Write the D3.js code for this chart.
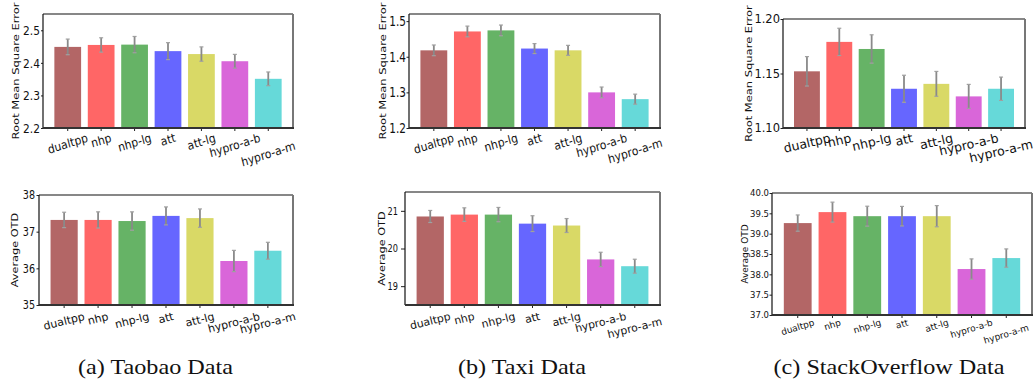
<!DOCTYPE html>
<html>
<head>
<meta charset="utf-8">
<script src="https://cdn.jsdelivr.net/npm/d3@7/dist/d3.min.js"></script>
<style>
  html, body { margin: 0; padding: 0; background: #fff; }
  svg { display: block; }
</style>
</head>
<body>
<svg id="chart" width="1034" height="381"></svg>
<script>
// ---------- data ----------
const categories = ["dualtpp", "nhp", "nhp-lg", "att", "att-lg", "hypro-a-b", "hypro-a-m"];
const barColors = ["#b36666", "#ff6666", "#66b366", "#6666ff", "#d9d966", "#d966d9", "#66d9d9"];

const taobaoRmse     = [2.449, 2.455, 2.456, 2.436, 2.427, 2.405, 2.351];
const taobaoRmseErr  = [0.024, 0.022, 0.025, 0.026, 0.022, 0.021, 0.021];
const taxiRmse       = [1.418, 1.471, 1.474, 1.423, 1.418, 1.300, 1.281];
const taxiRmseErr    = [0.015, 0.015, 0.015, 0.014, 0.014, 0.015, 0.014];
const soRmse         = [1.152, 1.179, 1.1725, 1.136, 1.1405, 1.129, 1.136];
const soRmseErr      = [0.0135, 0.0125, 0.013, 0.0124, 0.0114, 0.011, 0.0107];

const taobaoOtd      = [37.32, 37.32, 37.29, 37.43, 37.37, 36.20, 36.48];
const taobaoOtdErr   = [0.21, 0.22, 0.25, 0.245, 0.25, 0.29, 0.23];
const taxiOtd        = [20.85, 20.90, 20.90, 20.66, 20.61, 19.71, 19.53];
const taxiOtdErr     = [0.16, 0.18, 0.19, 0.21, 0.185, 0.19, 0.185];
const soOtd          = [39.26, 39.53, 39.43, 39.43, 39.43, 38.13, 38.40];
const soOtdErr       = [0.20, 0.245, 0.245, 0.24, 0.26, 0.25, 0.225];

const taobaoRmseTicks = [2.2, 2.3, 2.4, 2.5];
const taxiRmseTicks   = [1.2, 1.3, 1.4, 1.5];
const soRmseTicks     = [1.10, 1.15, 1.20];
const taobaoOtdTicks  = [35, 36, 37, 38];
const taxiOtdTicks    = [19, 20, 21];
const soOtdTicks      = [37.0, 37.5, 38.0, 38.5, 39.0, 39.5, 40.0];

const captions = ["(a) Taobao Data", "(b) Taxi Data", "(c) StackOverflow Data"];
const rmseLabel = "Root Mean Square Error";
const otdLabel = "Average OTD";

// ---------- layout ----------
const panels = [
  { vals: taobaoRmse, errs: taobaoRmseErr, ticks: taobaoRmseTicks, domain: [2.2, 2.55], fmt: ".1f",
    x0: 43, x1: 293, y0: 14, y1: 128, label: rmseLabel, labelX: 15, labelFs: 11.5, labelSx: 0.8,
    tickFs: 13, tickSx: 0.82, tickLen: 2, tickPad: 1,
    xFs: 12, xAng: 16, xSx: 0.9, xOff: 3.5, lastShift: 8 },
  { vals: taxiRmse, errs: taxiRmseErr, ticks: taxiRmseTicks, domain: [1.2, 1.52], fmt: ".1f",
    x0: 409, x1: 660, y0: 14, y1: 128, label: rmseLabel, labelX: 382, labelFs: 11.5, labelSx: 0.8,
    tickFs: 13.5, tickSx: 0.78, tickLen: 2.5, tickPad: 0.5,
    xFs: 12, xAng: 16, xSx: 0.9, xOff: 3.5, lastShift: 5 },
  { vals: soRmse, errs: soRmseErr, ticks: soRmseTicks, domain: [1.10, 1.20], fmt: ".2f",
    x0: 783, x1: 1025, y0: 19, y1: 128, label: rmseLabel, labelX: 748, labelFs: 11.5, labelSx: 0.82,
    tickFs: 11.5, tickSx: 1, tickLen: 2.5, tickPad: 0.5,
    xFs: 12.5, xAng: 13, xSx: 1, xOff: 3.5, lastShift: 6 },
  { vals: taobaoOtd, errs: taobaoOtdErr, ticks: taobaoOtdTicks, domain: [35, 38], fmt: "d",
    x0: 39, x1: 293, y0: 195, y1: 305, label: otdLabel, labelX: 15, labelFs: 11.3, labelSx: 0.8,
    tickFs: 12, tickSx: 0.8, tickLen: 2.5, tickPad: 1.5,
    xFs: 11, xAng: 14, xSx: 1, xOff: 6, lastShift: 0 },
  { vals: taxiOtd, errs: taxiOtdErr, ticks: taxiOtdTicks, domain: [18.5, 21.5], fmt: "d",
    x0: 405, x1: 660, y0: 192, y1: 305, label: otdLabel, labelX: 382, labelFs: 11.3, labelSx: 0.8,
    tickFs: 10.5, tickSx: 0.78, tickLen: 4, tickPad: 3,
    xFs: 10.8, xAng: 14, xSx: 1, xOff: 6, lastShift: 5 },
  { vals: soOtd, errs: soOtdErr, ticks: soOtdTicks, domain: [37, 40], fmt: ".1f",
    x0: 772, x1: 1032, y0: 193, y1: 315, label: otdLabel, labelX: 745, labelFs: 9, labelSx: 0.9,
    tickFs: 8.5, tickSx: 1, tickLen: 2.5, tickPad: 0.5,
    xFs: 9, xAng: 17, xSx: 1, xOff: 3, lastShift: 5 }
];
const captionX = [155.5, 522, 889];
const captionY = 374;

const svg = d3.select("#chart");
const FONT = "'DejaVu Sans', sans-serif";

panels.forEach(p => {
  const x = d3.scaleBand().domain(categories).range([p.x0, p.x1]).paddingInner(0.2).paddingOuter(0.34);
  const y = d3.scaleLinear().domain(p.domain).range([p.y1, p.y0]);
  const g = svg.append("g");

  // bars
  g.selectAll("rect.bar").data(categories).join("rect")
    .attr("class", "bar")
    .attr("x", d => x(d))
    .attr("width", x.bandwidth())
    .attr("y", (d, i) => y(p.vals[i]))
    .attr("height", (d, i) => y(p.domain[0]) - y(p.vals[i]))
    .attr("fill", (d, i) => barColors[i]);

  // error bars
  const cx = d => x(d) + x.bandwidth() / 2;
  g.selectAll("line.err").data(categories).join("line")
    .attr("class", "err")
    .attr("x1", cx).attr("x2", cx)
    .attr("y1", (d, i) => y(p.vals[i] - p.errs[i]))
    .attr("y2", (d, i) => y(p.vals[i] + p.errs[i]))
    .attr("stroke", "#8a8a8a").attr("stroke-width", 1.8);
  [-1, 1].forEach((s, k) => {
    g.selectAll("line.cap" + k).data(categories).join("line")
      .attr("class", "cap" + k)
      .attr("x1", d => cx(d) - 2).attr("x2", d => cx(d) + 2)
      .attr("y1", (d, i) => y(p.vals[i] + s * p.errs[i]))
      .attr("y2", (d, i) => y(p.vals[i] + s * p.errs[i]))
      .attr("stroke", "#a0a0a0").attr("stroke-width", 1.2);
  });

  // y axis
  const yAxis = g.append("g").attr("transform", `translate(${p.x0},0)`)
    .call(d3.axisLeft(y).tickValues(p.ticks).tickFormat(d3.format(p.fmt))
      .tickSize(p.tickLen).tickPadding(p.tickPad));
  yAxis.select(".domain").remove();
  yAxis.selectAll("line").attr("stroke", "#222");
  yAxis.selectAll("text")
    .attr("font-family", FONT).attr("font-size", p.tickFs).attr("fill", "#111")
    .each(function () {
      const t = d3.select(this);
      const xv = +t.attr("x");
      t.attr("x", 0).attr("transform", `translate(${xv},0) scale(${p.tickSx},1)`);
    });

  // x axis ticks
  const xAxis = g.append("g").attr("transform", `translate(0,${p.y1})`)
    .call(d3.axisBottom(x).tickSize(3).tickFormat(""));
  xAxis.select(".domain").remove();
  xAxis.selectAll("line").attr("stroke", "#222");

  // rotated x labels (top of rotated box aligned below axis)
  const ang = p.xAng * Math.PI / 180;
  categories.forEach((c, i) => {
    const t = g.append("text")
      .attr("font-family", FONT).attr("font-size", p.xFs).attr("fill", "#111")
      .attr("text-anchor", "middle").attr("dominant-baseline", "central")
      .text(c);
    const w = t.node().getComputedTextLength();
    const h = p.xFs;
    const bh = w * Math.sin(ang) + h * Math.cos(ang);
    const extra = i === categories.length - 1 ? p.lastShift : 0;
    const cyy = p.y1 + p.xOff + bh / 2 + extra;
    t.attr("transform", `translate(${cx(c)},${cyy}) scale(${p.xSx},1) rotate(${-p.xAng})`);
  });

  // frame
  g.append("line").attr("x1", p.x0).attr("x2", p.x1).attr("y1", p.y0).attr("y2", p.y0)
    .attr("stroke", "#111").attr("stroke-width", 1.2);
  g.append("line").attr("x1", p.x0).attr("x2", p.x0).attr("y1", p.y0).attr("y2", p.y1)
    .attr("stroke", "#111").attr("stroke-width", 1.2);
  g.append("line").attr("x1", p.x1).attr("x2", p.x1).attr("y1", p.y0).attr("y2", p.y1 + 1)
    .attr("stroke", "#777").attr("stroke-width", 2);
  g.append("line").attr("x1", p.x0).attr("x2", p.x1 + 1).attr("y1", p.y1).attr("y2", p.y1)
    .attr("stroke", "#333").attr("stroke-width", 1.8);

  // y label
  g.append("text")
    .attr("transform", `translate(${p.labelX},${(p.y0 + p.y1) / 2}) scale(${p.labelSx},1) rotate(-90)`)
    .attr("text-anchor", "middle").attr("dominant-baseline", "central")
    .attr("font-family", FONT).attr("font-size", p.labelFs).attr("fill", "#111")
    .text(p.label);
});

// captions
svg.selectAll("text.caption").data(captions).join("text")
  .attr("class", "caption")
  .attr("transform", (d, i) => `translate(${captionX[i]},${captionY}) scale(1.1,1)`)
  .attr("text-anchor", "middle")
  .attr("font-family", "'Liberation Serif', 'Times New Roman', serif")
  .attr("font-size", 22).attr("fill", "#111")
  .text(d => d);
</script>
</body>
</html>
